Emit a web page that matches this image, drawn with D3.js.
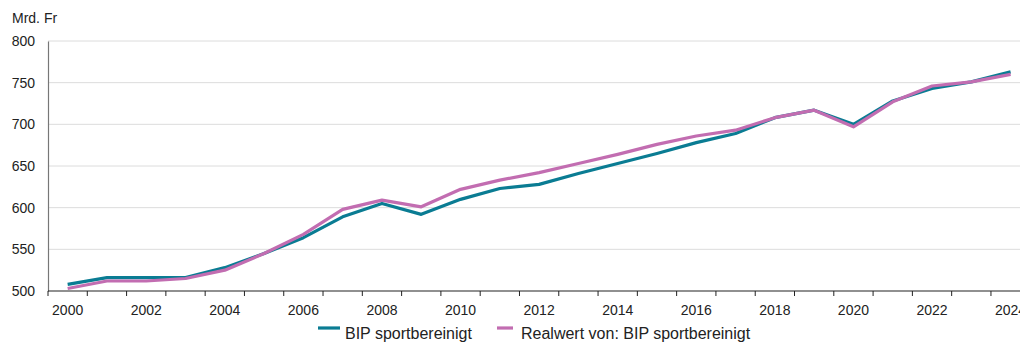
<!DOCTYPE html>
<html>
<head>
<meta charset="utf-8">
<script src="https://cdn.jsdelivr.net/npm/d3@7"></script>
<style>
  html, body { margin: 0; padding: 0; background: #fff; }
  svg { display: block; font-family: "Liberation Sans", Arial, sans-serif; }
</style>
</head>
<body>
<svg id="chart" width="1020" height="343"></svg>
<script>
// Years on the x axis
const years = d3.range(2000, 2025);
// BIP sportbereinigt, Mrd. Fr
const bipNominal = [508, 516, 516, 516, 528, 545, 564, 589, 605, 592, 610, 623, 628, 641, 653, 665, 678, 689, 708, 717, 700, 728, 743, 751, 763];
// Realwert von: BIP sportbereinigt, Mrd. Fr
const bipReal = [503, 512, 512, 515, 525, 545, 568, 598, 609, 601, 622, 633, 642, 653, 664, 676, 686, 693, 708, 717, 697, 727, 746, 751, 760];
// Value-axis ticks
const yTicks = [500, 550, 600, 650, 700, 750, 800];
const seriesNames = ["BIP sportbereinigt", "Realwert von: BIP sportbereinigt"];
const seriesColors = ["#0a7c93", "#c26db1"];

const svg = d3.select("#chart");
const plotLeft = 48, plotTop = 41, plotBottom = 291;
const bandW = 39.29;

const x = d3.scaleBand()
  .domain(years)
  .range([plotLeft, plotLeft + bandW * years.length])
  .paddingInner(0).paddingOuter(0);

const y = d3.scaleLinear().domain([500, 800]).range([plotBottom, plotTop]);

// Horizontal gridlines
svg.append("g")
  .selectAll("line")
  .data(yTicks.filter(d => d > 500))
  .join("line")
  .attr("x1", plotLeft).attr("x2", 1020)
  .attr("y1", d => y(d)).attr("y2", d => y(d))
  .attr("stroke", "#dcdcdc").attr("stroke-width", 1);

// Unit label
svg.append("text")
  .attr("x", 12).attr("y", 23)
  .attr("font-size", 14).attr("fill", "#222")
  .text("Mrd. Fr");

// Y axis
const yAxis = svg.append("g")
  .attr("transform", `translate(${plotLeft},0)`)
  .call(d3.axisLeft(y).tickValues(yTicks).tickSize(0).tickPadding(13));
yAxis.select(".domain").attr("stroke", "#777").attr("stroke-width", 1.2);
yAxis.selectAll("text").attr("font-size", 14).attr("fill", "#222")
  .attr("font-family", "Liberation Sans, Arial, sans-serif");

// X axis: ticks on band boundaries, labels on even years (last one runs off the edge)
const xAxisG = svg.append("g").attr("transform", `translate(0,${plotBottom})`);
xAxisG.append("line")
  .attr("x1", plotLeft).attr("x2", 1020)
  .attr("y1", 0).attr("y2", 0)
  .attr("stroke", "#222").attr("stroke-width", 1.2);
xAxisG.selectAll("line.tick")
  .data(years)
  .join("line")
  .attr("class", "tick")
  .attr("x1", d => x(d)).attr("x2", d => x(d))
  .attr("y1", 0).attr("y2", 5)
  .attr("stroke", "#222").attr("stroke-width", 1);
xAxisG.selectAll("text")
  .data(years.filter(d => d % 2 === 0))
  .join("text")
  .attr("x", d => x(d) + x.bandwidth() / 2)
  .attr("y", 24)
  .attr("text-anchor", "middle")
  .attr("font-size", 14).attr("fill", "#222")
  .text(d => d);

// Lines
const line = d3.line()
  .x((d, i) => x(years[i]) + x.bandwidth() / 2)
  .y(d => y(d));

[bipNominal, bipReal].forEach((vals, i) => {
  svg.append("path")
    .datum(vals)
    .attr("fill", "none")
    .attr("stroke", seriesColors[i])
    .attr("stroke-width", 3.2)
    .attr("stroke-linejoin", "round")
    .attr("d", line);
});

// Legend
const legendPos = [{ lx: 318, tx: 345 }, { lx: 497, tx: 521 }];
seriesNames.forEach((name, i) => {
  const g = svg.append("g");
  g.append("line")
    .attr("x1", legendPos[i].lx).attr("x2", legendPos[i].lx + (i === 0 ? 22 : 16))
    .attr("y1", 328).attr("y2", 328)
    .attr("stroke", seriesColors[i]).attr("stroke-width", 3.2);
  g.append("text")
    .attr("x", legendPos[i].tx).attr("y", 339)
    .attr("font-size", 16).attr("fill", "#222")
    .text(name);
});
</script>
</body>
</html>
